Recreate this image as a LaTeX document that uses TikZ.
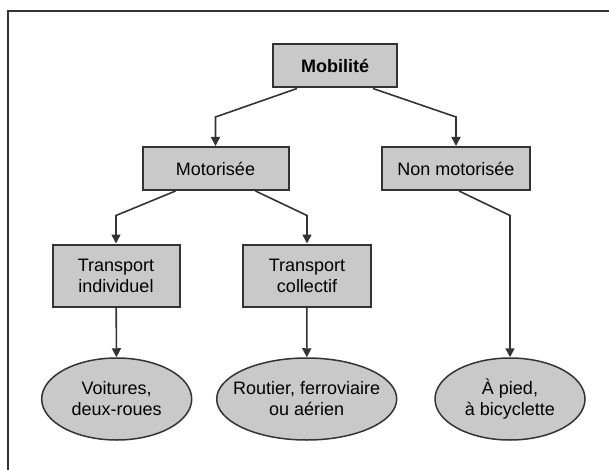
\documentclass[tikz,border=0pt]{standalone}
\usepackage{fontspec}
\setmainfont{Liberation Sans}
\usetikzlibrary{positioning,arrows.meta,shapes.geometric}

\definecolor{boxgray}{HTML}{C9C9C9}
\definecolor{linegray}{HTML}{333333}

\begin{document}
\begin{tikzpicture}[x=1pt, y=-1pt,
    box/.style={draw=linegray, line width=2pt, fill=boxgray, inner sep=0pt,
        minimum height=43pt, align=center, font=\fontsize{18}{21}\selectfont},
    leaf/.style={ellipse, draw=linegray, line width=1.5pt, fill=boxgray, inner sep=0pt,
        minimum width=150pt, minimum height=82pt, align=center, font=\fontsize{18}{21}\selectfont},
    arr/.style={-{Triangle[length=9pt,width=9pt]}, draw=linegray, line width=1.6pt}]

    \useasboundingbox (0,0) rectangle (609,470);
    \draw[linegray, line width=2pt] (609,11) -- (8.3,11) -- (8.3,470);

    \node[box, minimum width=124pt, font=\fontsize{18}{21}\selectfont\bfseries] (mob) at (335,66) {Mobilité};
    \node[box, minimum width=146pt] (mot) at (215.5,168.5) {Motorisée};
    \node[box, minimum width=148pt] (non) at (456,168.5) {Non motorisée};
    \node[box, minimum width=127pt, minimum height=62pt] (ind) at (116,275.5) {Transport\\individuel};
    \node[box, minimum width=128pt, minimum height=62pt] (col) at (307,275.5) {Transport\\collectif};
    \node[leaf] (voit) at (116.7,399) {Voitures,\\deux-roues};
    \node[leaf, minimum width=180pt, inner xsep=-16pt] (rout) at (306.7,399) {Routier, ferroviaire\\ou aérien};
    \node[leaf] (pied) at (510,399) {À pied,\\à bicyclette};

    \draw[arr] ([xshift=-38pt]mob.south) -- (mot.north |- 0,117) -- (mot.north);
    \draw[arr] ([xshift=38pt]mob.south) -- (non.north |- 0,117) -- (non.north);
    \draw[arr] ([xshift=-40pt]mot.south) -- (ind.north |- 0,215.5) -- (ind.north);
    \draw[arr] ([xshift=40pt]mot.south) -- (col.north |- 0,215.5) -- (col.north);
    \draw[arr] ([xshift=3pt]non.south) -- (pied.north |- 0,215.5) -- (pied.north);
    \draw[arr] (ind) -- (voit);
    \draw[arr] (col) -- (rout);
\end{tikzpicture}
\end{document}
